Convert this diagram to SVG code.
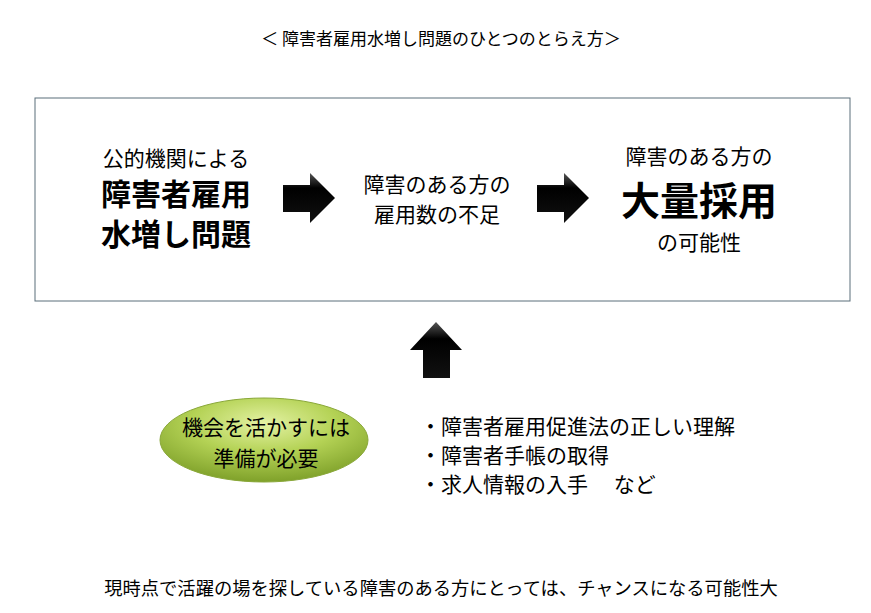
<svg xmlns="http://www.w3.org/2000/svg" width="871" height="613" viewBox="0 0 871 613">
<style>
text{font-family:"Noto Sans CJK JP","Noto Sans CJK SC",sans-serif;fill:#000}
.n{font-size:21px}
.b{font-size:30px;font-weight:bold}
.bb{font-size:39px;font-weight:bold}
</style>
<defs>
<linearGradient id="ar" x1="0" y1="0" x2="0" y2="1"><stop offset="0" stop-color="#555"/><stop offset="0.3" stop-color="#000"/><stop offset="1" stop-color="#111"/></linearGradient>
<radialGradient id="el" cx="0.5" cy="0.3" r="0.7"><stop offset="0" stop-color="#e4f2a4"/><stop offset="0.5" stop-color="#b4d255"/><stop offset="1" stop-color="#7fa12a"/></radialGradient>
</defs>
<rect width="871" height="613" fill="#fff"/>
<text x="441" y="45" text-anchor="middle" font-size="17">＜ 障害者雇用水増し問題のひとつのとらえ方＞</text>
<g id="frame"><rect x="35" y="98" width="815" height="203" fill="#fff" stroke="#5a6e7a" stroke-width="1"/></g>
<g id="n1">
<text x="176" y="166" text-anchor="middle" class="n">公的機関による</text>
<text x="176" y="205" text-anchor="middle" class="b">障害者雇用</text>
<text x="176" y="245" text-anchor="middle" class="b">水増し問題</text>
</g>
<g id="n2">
<text x="437" y="192" text-anchor="middle" class="n">障害のある方の</text>
<text x="437" y="222" text-anchor="middle" class="n">雇用数の不足</text>
</g>
<g id="n3">
<text x="699" y="164" text-anchor="middle" class="n">障害のある方の</text>
<text x="699" y="215" text-anchor="middle" class="bb">大量採用</text>
<text x="699" y="250" text-anchor="middle" class="n">の可能性</text>
</g>
<g id="connectors">
<polygon points="283,185 310,185 310,173 335,198 310,223 310,212 283,212" fill="url(#ar)"/>
<polygon points="537,185 564,185 564,173 589,198 564,223 564,212 537,212" fill="url(#ar)"/>
<polygon points="436,322 462,350 450,350 450,378 423,378 423,350 410,350" fill="url(#ar)"/>
</g>
<g id="ellipse">
<ellipse cx="264" cy="440" rx="104" ry="42" fill="url(#el)" stroke="#8aa83a" stroke-width="1"/>
<text x="266" y="435" text-anchor="middle" class="n">機会を活かすには</text>
<text x="266" y="466" text-anchor="middle" class="n">準備が必要</text>
</g>
<g id="list">
<text x="420" y="434" class="n">・障害者雇用促進法の正しい理解</text>
<text x="420" y="463" class="n">・障害者手帳の取得</text>
<text x="420" y="492" class="n">・求人情報の入手　  など</text>
</g>
<text x="441" y="595" text-anchor="middle" font-size="18.3">現時点で活躍の場を探している障害のある方にとっては、チャンスになる可能性大</text>
</svg>
